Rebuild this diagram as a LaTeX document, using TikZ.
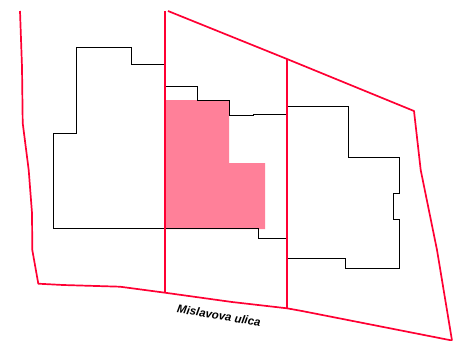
\documentclass[tikz,border=0pt]{standalone}
\usepackage{fontspec}
\setmainfont{Liberation Sans}
\definecolor{parcel}{HTML}{FF0033}
\definecolor{unitfill}{HTML}{FF8099}
\tikzset{
  x=1pt,y=-1pt,
  parcelline/.style={draw=parcel,line width=1.7pt,line join=round},
  buildline/.style={draw=black,line width=0.85pt,line join=miter},
  streetlabel/.style={font=\bfseries\itshape\fontsize{11.5}{13}\selectfont,rotate=-9,inner sep=0pt}
}
\begin{document}
\begin{tikzpicture}
\useasboundingbox (0,0) rectangle (463,340);
\fill[unitfill] (165,100) -- (229,100) -- (229,163) -- (265,163) -- (265,229) -- (165,229) -- cycle;
% buildings
\draw[buildline] (165,64) -- (131,64) -- (131,47) -- (76,47) -- (76,133.5) -- (53.5,133.5) -- (53.5,228.5) -- (258,228.5) -- (258,238.5) -- (287,238.5) -- (287,258.5) -- (345.5,258.5) -- (345.5,268.5) -- (399,268.5) -- (399,219.5) -- (393.5,219.5) -- (393.5,193) -- (399,193) -- (399,157.5) -- (348.5,157.5) -- (348.5,106) -- (287,106) -- (287,114) -- (253,114) -- (253,115) -- (229,115) -- (229,100) -- (197,100) -- (197,86) -- (165,86) -- cycle;
% parcels
\draw[parcelline] (20,11) -- (22,67) -- (22.7,123) -- (28.7,170) -- (32,213) -- (32.3,250) -- (38.3,283.7) -- (63,285) -- (120,286.7) -- (165,292.7) -- (232,302) -- (287,308.3) -- (302,311) -- (452,340.5);
\draw[parcelline] (168,11) -- (287,59) -- (414,111) -- (420.7,170) -- (437,250) -- (452,340.5);
\draw[parcelline] (165,11) -- (165,292.7);
\draw[parcelline] (287,59) -- (287,308.3);
\node[streetlabel] (street) at (219,315.5) {Mislavova ulica};
\end{tikzpicture}
\end{document}
